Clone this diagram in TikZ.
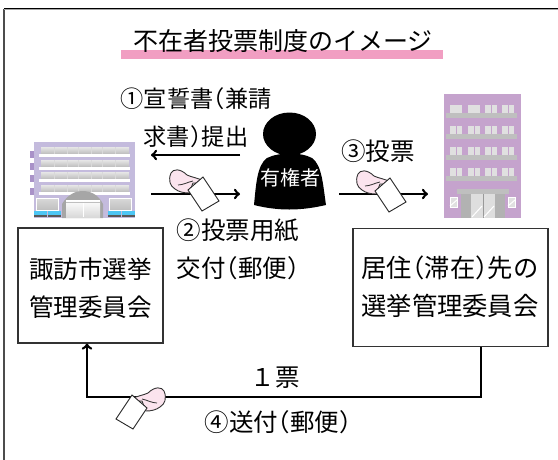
\documentclass[tikz,border=0pt]{standalone}
\usepackage{fontspec}
\setmainfont{Noto Sans CJK JP}
\usetikzlibrary{calc}
\definecolor{titlepink}{HTML}{F19EC2}
\definecolor{handpink}{HTML}{FBE4EE}
\definecolor{cityviolet}{HTML}{C4BBDD}
\definecolor{citytab}{HTML}{A992C8}
\definecolor{hotelviolet}{HTML}{C5A3CD}
\newcommand{\lpar}{\kern-.5em\symbol{"FF08}}
\newcommand{\rpar}{\symbol{"FF09}\kern-.5em}
\tikzset{
  lbl/.style={inner sep=0pt,align=center,font=\fontsize{24.5}{38}\selectfont},
  officebox/.style={draw=black!80,line width=1.2pt,fill=white,inner sep=0pt},
  flow/.style={->,line width=2.6pt,black},
  voteicon/.pic={
    \filldraw[fill=handpink,draw=black!80,line width=0.9pt] (1,-13) .. controls (-5,-16) and (-12,-17) .. (-16,-19)
      .. controls (-23,-26) and (-30,-25) .. (-32,-21) .. controls (-35,-14) and (-33,-8) .. (-28,-5)
      .. controls (-24,-2) and (-19,-1) .. (-14,-1) -- (-12,-6) -- (-10,-11) .. controls (-5,-11) and (0,-10) .. (1,-13) -- cycle;
    \draw[black!80,line width=0.8pt] (-25,-9) .. controls (-20,-9) and (-15,-12) .. (-10,-13);
    \filldraw[fill=white,draw=black!85,line width=0.9pt] (0,-17) -- (16,7) -- (-1,17) -- (-15,-4) -- cycle;
  }
}
\begin{document}
\begin{tikzpicture}[x=1pt,y=-1pt]
\useasboundingbox (0,0) rectangle (558,459);
\draw[black!70,line width=2.5pt] (4,470) -- (4,9);
\draw[black!35,line width=1pt] (4,9.5) -- (570,9.5);
\draw[black,line width=1pt] (4,8.5) -- (570,8.5);

% title
\fill[titlepink] (121,50) rectangle (443,59);
\node[lbl,font=\fontsize{25}{30}\selectfont] (title) at (283,41) {不在者投票制度のイメージ};

% city office
\fill[cityviolet] (34,142) rectangle (135,218);
\foreach \y/\z in {151/158,163/170,175/182,188/195} {\fill[citytab] (30,\y) rectangle (34,\z);}
\foreach \y in {147,160,172,185} {
  \fill[top color=black!10,bottom color=black!25] (41,\y) rectangle (129,\y+6.5);
  \fill[white] (39,\y+6.5) rectangle (130,\y+10);
  \foreach \x in {54,67,78,91,102,115} {\draw[white!85!black,line width=0.8pt] (\x,\y) -- (\x,\y+6.5);}
}
\fill[black!35] (62,218) -- (62,204) .. controls (68,194) and (76,191) .. (82,191) .. controls (90,191) and (98,194) .. (103,204) -- (103,218) -- cycle;
\fill[top color=white,bottom color=black!15] (66,200) rectangle (100,217);
\draw[white,line width=1pt] (83,200) -- (83,217);
\draw[black!25,line width=0.8pt] (66,202) -- (100,202);
\foreach \x in {36,109} {
  \filldraw[draw=white,line width=1pt,top color=black!15,bottom color=black!25] (\x,198) rectangle (\x+22,210);
}
\foreach \x in {34,48,108,122} {
  \fill[cyan!70!white] (\x,211) rectangle (\x+13,215);
  \fill[black!65] (\x,215) rectangle (\x+13,217);
}

% hotel
\fill[hotelviolet] (444,94) rectangle (521,218);
\foreach \y in {105,126,147,168} {
  \fill[black!25] (446,\y+8) rectangle (517,\y+13);
  \foreach \x in {450,468,485,502} {
    \fill[black!12] (\x,\y) rectangle (\x+12,\y+8);
    \draw[hotelviolet,line width=0.8pt] (\x+6,\y) -- (\x+6,\y+8);
  }
}
\fill[black!12] (450,105) rectangle (462,113);
\fill[black!12] (468,105) rectangle (480,113);
\fill[black!30] (461,194) rectangle (505,218);
\fill[black!25] (457,189) rectangle (509,194);
\fill[black!13] (471,194) rectangle (495,218);
\draw[black!40,line width=0.8pt] (483,194) -- (483,218);
\draw[white,line width=1pt] (472,217) -- (482,206) (484,217) -- (494,206);
\foreach \x in {450,508} {
  \filldraw[fill=black!12,draw=white,line width=0.6pt] (\x,197) rectangle (\x+7,207);
  \draw[white,line width=1pt] (\x,206) -- (\x+7,200);
}

% voter
\fill[black] (289.5,134) ellipse (26.5 and 21.5);
\fill[black] (267,158) .. controls (279,152) and (301,152) .. (312,158)
  .. controls (322,165) and (323,185) .. (326,205) .. controls (300,211) and (278,211) .. (254,205)
  .. controls (256,185) and (257,165) .. (267,158) -- cycle;
\node[inner sep=0pt,text=white,font=\fontsize{20}{24}\selectfont] (voter) at (290,178) {有権者};

% boxes
\node[officebox,minimum width=145pt,minimum height=115pt] (cityoffice) at (90.5,285.5) {};
\node[officebox,minimum width=195pt,minimum height=118pt] (hoteloffice) at (450.5,287.5) {};
\node[lbl] (citytext) at (90.5,288) {諏訪市選挙\\管理委員会};
\node[lbl,font=\fontsize{25.3}{38}\selectfont] (hoteltext) at (450,286.5) {居住\lpar 滞在\rpar 先の\\選挙管理委員会};

% labels
\node[lbl,font=\fontsize{23.2}{38}\selectfont] (step1) at (196,118) {①宣誓書\lpar 兼請\\求書\rpar 提出};
\node[lbl] (step2) at (238,249) {②投票用紙\\交付\lpar 郵便\rpar};
\node[lbl] (step3) at (378,151) {③投票};
\node[lbl] (step4) at (278,422) {④送付\lpar 郵便\rpar};
\node[lbl] (onevote) at (275,378) {\symbol{"FF11}票};

% flows
\coordinate (a1) at (240,155);
\coordinate (a2) at (151,155);
\coordinate (b1) at (151,194);
\coordinate (b2) at (240,194);
\coordinate (c1) at (339,194);
\coordinate (c2) at (428,194);
\coordinate (turn) at (87,397);
\draw[flow] (a1) -- (a2);
\draw[flow] (b1) -- (b2);
\draw[flow] (c1) -- (c2);
\draw[flow] ([xshift=30.5pt]hoteloffice.south) |- (turn) -- (turn |- cityoffice.south);

\pic at (203,194) {voteicon};
\pic at (390,195) {voteicon};
\pic[xscale=-1] at (132,412) {voteicon};
\end{tikzpicture}
\end{document}
